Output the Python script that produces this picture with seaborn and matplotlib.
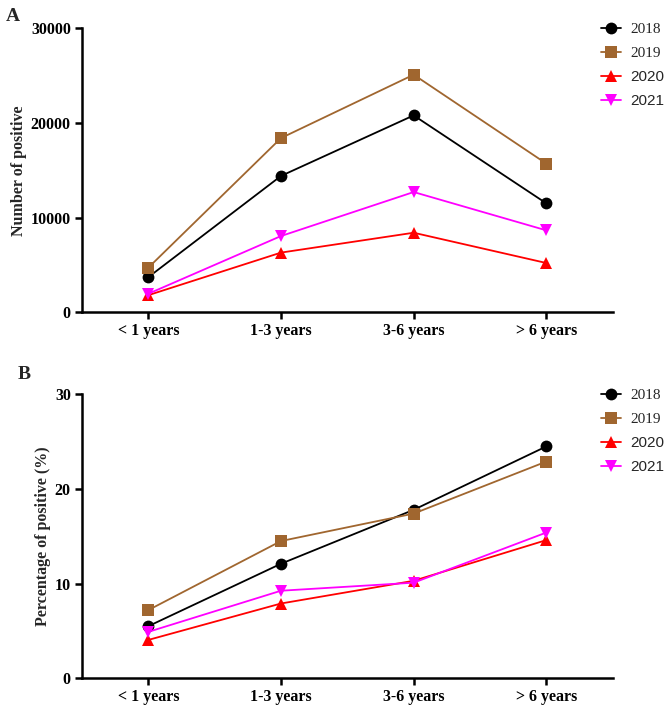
import pandas as pd
import numpy as np
import seaborn as sns
import matplotlib
matplotlib.use("Agg")
import matplotlib.pyplot as plt

ages = ["< 1 years", "1-3 years", "3-6 years", "> 6 years"]
years = ["2018", "2019", "2020", "2021"]

# Number of positive
count_2018 = [3700, 14400, 20800, 11500]
count_2019 = [4700, 18400, 25100, 15700]
count_2020 = [1800, 6300, 8400, 5200]
count_2021 = [1950, 8050, 12700, 8650]

# Percentage of positive (%)
pct_2018 = [5.5, 12.1, 17.8, 24.5]
pct_2019 = [7.2, 14.5, 17.4, 22.9]
pct_2020 = [4.05, 7.9, 10.3, 14.6]
pct_2021 = [4.9, 9.25, 10.1, 15.4]

colors = ["#000000", "#A0662F", "#FF0000", "#FF00FF"]
markers = ["o", "s", "^", "v"]

def long_df(series):
  rows = []
  for yr, vals in zip(years, series):
    for a, v in zip(ages, vals):
      rows.append({"age": a, "year": yr, "value": v})
  return pd.DataFrame(rows)

count_df = long_df([count_2018, count_2019, count_2020, count_2021])
pct_df = long_df([pct_2018, pct_2019, pct_2020, pct_2021])

sns.set_style("ticks")
plt.rcParams['font.family'] = ['Liberation Serif', 'DejaVu Serif']
plt.rcParams['font.weight'] = 'bold'
plt.rcParams['axes.labelweight'] = 'bold'

fig = plt.figure(figsize=(6.66, 7.08), dpi=100)
ax1 = fig.add_axes([0.123, 0.559, 0.797, 0.401])
ax2 = fig.add_axes([0.123, 0.042, 0.797, 0.401])

def draw(ax, df, ylabel, ymax, yticks):
  sns.lineplot(data=df, x="age", y="value", hue="year", style="year",
               palette=colors, markers=markers, dashes=False, errorbar=None,
               markersize=8.5, linewidth=1.3, markeredgewidth=0, ax=ax, legend=False)
  ax.set_xlim(-0.5, 3.5)
  ax.set_ylim(0, ymax)
  ax.set_yticks(yticks)
  ax.set_yticklabels([str(int(t)) for t in yticks])
  ax.set_xlabel("")
  ax.set_ylabel(ylabel, fontsize=11.5, fontweight='bold', labelpad=3)
  for s in ["top", "right"]:
    ax.spines[s].set_visible(False)
  for s in ["left", "bottom"]:
    ax.spines[s].set_linewidth(1.8)
    ax.spines[s].set_color("black")
  ax.tick_params(direction='out', length=5, width=1.8, labelsize=11.5, colors='black', pad=3)
  for lab in ax.get_xticklabels() + ax.get_yticklabels():
    lab.set_fontweight('bold')

  handles = [matplotlib.lines.Line2D([], [], color=c, marker=m, markersize=8.5,
                                     markeredgewidth=0, linewidth=1.3)
             for c, m in zip(colors, markers)]
  leg = ax.legend(handles, years, loc='upper left', bbox_to_anchor=(0.978, 1.02),
                  frameon=False, borderaxespad=0, borderpad=0, handlelength=1.3,
                  handletextpad=0.6, labelspacing=0.66, prop={'size': 11})
  for i, t in enumerate(leg.get_texts()):
    t.set_fontweight('normal')
    t.set_fontfamily(['Liberation Serif'] if i < 2 else ['Liberation Sans'])

draw(ax1, count_df, "Number of positive", 30000, [0, 10000, 20000, 30000])
draw(ax2, pct_df, "Percentage of positive (%)", 30, [0, 10, 20, 30])

fig.text(0.008, 0.988, "A", fontsize=14, fontweight='bold', va='top', ha='left')
fig.text(0.026, 0.483, "B", fontsize=14, fontweight='bold', va='top', ha='left')

fig.savefig("out.png", dpi=100)
